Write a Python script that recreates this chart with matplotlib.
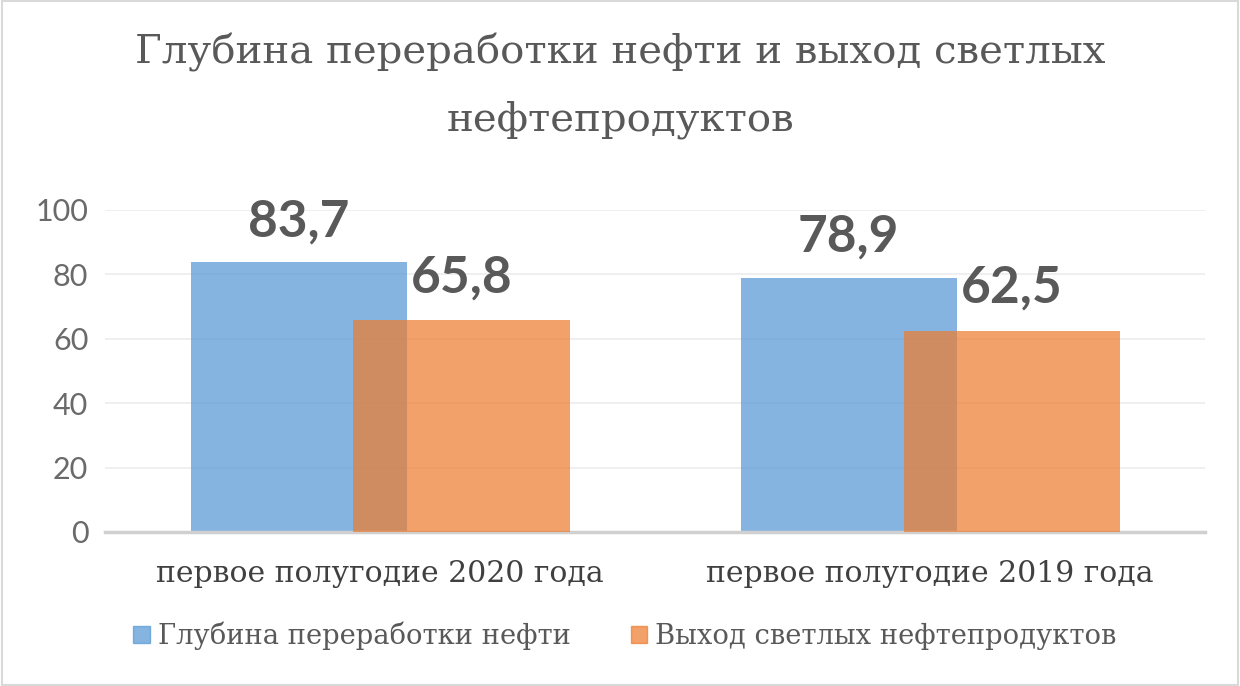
import numpy as np
import matplotlib.pyplot as plt
from matplotlib.patches import Rectangle

categories = ['первое полугодие 2020 года', 'первое полугодие 2019 года']
depth = [83.7, 78.9]
light = [65.8, 62.5]
labels_depth = ['83,7', '78,9']
labels_light = ['65,8', '62,5']
series_names = ['Глубина переработки нефти', 'Выход светлых нефтепродуктов']
yticks = [0, 20, 40, 60, 80, 100]

grey = '#595959'
blue = '#5B9BD5'
orange = '#ED7D31'

fig = plt.figure(figsize=(12.4, 6.86), dpi=100)
ax = fig.add_axes([0.0847, 0.2245, 0.8873, 0.4694])

x = np.arange(len(categories))
w = 0.393
off = 0.148
ax.bar(x - off, depth, w, color=blue, alpha=0.75, zorder=2)
ax.bar(x + off, light, w, color=orange, alpha=0.72, zorder=3)

for i in range(len(categories)):
    ax.annotate(labels_depth[i], (x[i] - off, depth[i]), xytext=(0, 19),
                textcoords='offset points', ha='center', va='baseline',
                fontsize=37, fontweight='bold', color=grey, family='Lato')
    ax.annotate(labels_light[i], (x[i] + off, light[i]), xytext=(0, 20),
                textcoords='offset points', ha='center', va='baseline',
                fontsize=37, fontweight='bold', color=grey, family='Lato', zorder=5)

ax.set_xlim(-0.5, 1.5)
ax.set_ylim(0, 100)
ax.set_yticks(yticks)
ax.set_xticks(x)
ax.set_xticklabels(categories, fontsize=21.5, color='#404040', family='DejaVu Serif')
for lab in ax.get_yticklabels():
    lab.set_fontsize(22)
    lab.set_color('#6a6a6a')
    lab.set_family('Lato')
ax.tick_params(axis='both', length=0)
ax.tick_params(axis='y', pad=12)
ax.tick_params(axis='x', pad=20)
ax.grid(axis='y', color='#ececec', linewidth=1.2, zorder=0)
ax.set_axisbelow(True)
for s in ['top', 'right', 'left']:
    ax.spines[s].set_visible(False)
ax.spines['bottom'].set_color('#d0d0d0')
ax.spines['bottom'].set_linewidth(2.5)

fig.text(0.5, 1 - 86 / 686, 'Глубина переработки нефти и выход светлых\nнефтепродуктов',
         ha='center', va='center', fontsize=29, color=grey, family='DejaVu Serif',
         linespacing=1.95)

handles = [Rectangle((0, 0), 1, 1, color=blue, alpha=0.75),
           Rectangle((0, 0), 1, 1, color=orange, alpha=0.72)]
leg = fig.legend(handles, series_names, loc='center', bbox_to_anchor=(0.504, 1 - 636 / 686),
                 ncol=2, frameon=False, handlelength=0.6, handleheight=0.6,
                 handletextpad=0.3, columnspacing=2.2,
                 prop={'family': 'DejaVu Serif', 'size': 19.7})
for t in leg.get_texts():
    t.set_color(grey)

fig.patches.append(Rectangle((0.002, 0.002), 0.996, 0.996, transform=fig.transFigure,
                             fill=False, edgecolor='#d9d9d9', linewidth=1.5))

fig.savefig('out.png', dpi=100)
